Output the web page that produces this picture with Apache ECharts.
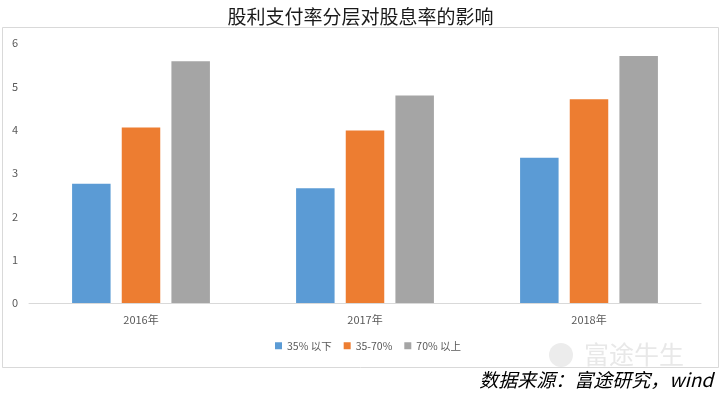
<!DOCTYPE html>
<html>
<head>
<meta charset="utf-8">
<script src="https://cdn.jsdelivr.net/npm/echarts@6/dist/echarts.min.js"></script>
<style>
  html, body { margin: 0; padding: 0; background: #fff; }
  #main { width: 721px; height: 397px; }
</style>
</head>
<body>
<div id="main"></div>
<script>
// 年份
var years = ['2016年', '2017年', '2018年'];
// 股息率（%），按股利支付率分层
var below35 = [2.75, 2.65, 3.35];
var mid35to70 = [4.05, 3.98, 4.70];
var above70 = [5.58, 4.79, 5.70];
var seriesNames = ['35% 以下', '35-70%', '70% 以上'];
var colors = ['#5B9BD5', '#ED7D31', '#A5A5A5'];

var font = '"Noto Sans CJK SC", "Noto Sans", sans-serif';
var chart = echarts.init(document.getElementById('main'), null, { renderer: 'canvas' });

function bar(name, data, color) {
  return {
    name: name,
    type: 'bar',
    data: data,
    barWidth: 38.5,
    barGap: '29%',
    itemStyle: { color: color },
    emphasis: { disabled: true }
  };
}

var option = {
  backgroundColor: '#fff',
  animation: false,
  textStyle: { fontFamily: font },
  title: {
    text: '股利支付率分层对股息率的影响',
    left: 'center',
    top: 2,
    textStyle: { fontSize: 19, fontWeight: 'normal', color: '#1a1a1a', fontFamily: font }
  },
  graphic: [
    {
      type: 'rect',
      shape: { x: 2.5, y: 27.5, width: 716, height: 340 },
      style: { fill: 'none', stroke: '#d9d9d9', lineWidth: 1 },
      z: -1
    },
    {
      type: 'text',
      left: 584,
      top: 342,
      style: { text: '富途牛生', fontSize: 25, fill: '#e8e8e8', fontFamily: font },
      z: -1
    },
    {
      type: 'circle',
      shape: { cx: 561, cy: 355, r: 12 },
      style: { fill: '#ececec' },
      z: -1
    },
    {
      type: 'text',
      right: 8,
      top: 370,
      style: {
        text: '数据来源：富途研究，wind',
        fontSize: 19,
        fontStyle: 'italic',
        fill: '#000',
        fontFamily: font
      }
    }
  ],
  legend: {
    data: seriesNames,
    bottom: 41,
    left: 270,
    itemWidth: 7,
    itemHeight: 7,
    itemGap: 12,
    icon: 'rect',
    textStyle: { fontSize: 10.5, color: '#595959', fontFamily: font }
  },
  grid: { left: 29, right: 20, top: 43, bottom: 94 },
  xAxis: {
    type: 'category',
    data: years,
    axisLine: { lineStyle: { color: '#d9d9d9' } },
    axisTick: { show: false },
    axisLabel: { fontSize: 11, color: '#595959', margin: 11 }
  },
  yAxis: {
    type: 'value',
    min: 0,
    max: 6,
    interval: 1,
    axisLine: { show: false },
    axisTick: { show: false },
    splitLine: { show: false },
    axisLabel: { fontSize: 11, color: '#595959', margin: 11 }
  },
  series: [
    bar(seriesNames[0], below35, colors[0]),
    bar(seriesNames[1], mid35to70, colors[1]),
    bar(seriesNames[2], above70, colors[2])
  ]
};
chart.setOption(option);
</script>
</body>
</html>
